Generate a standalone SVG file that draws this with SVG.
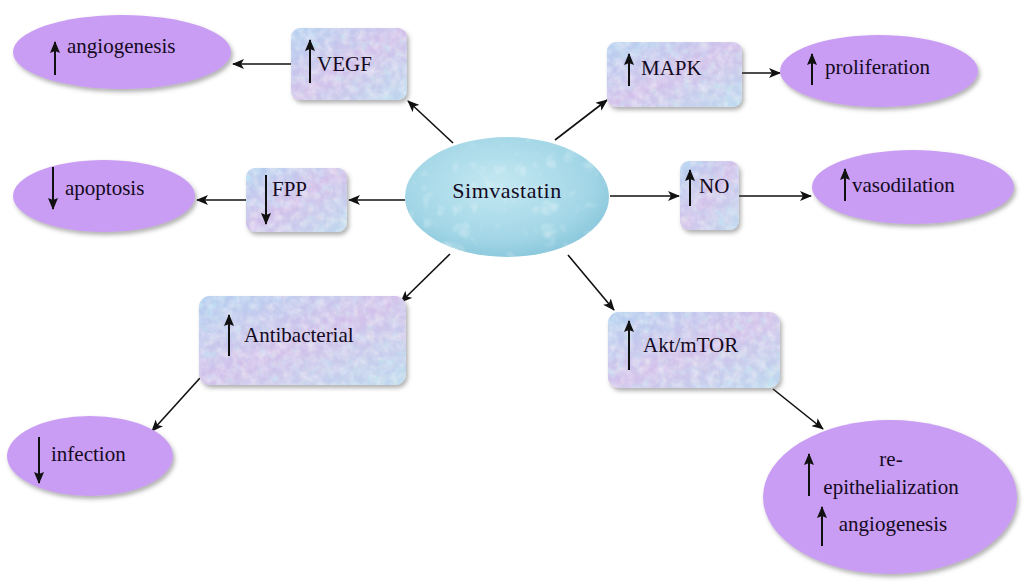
<svg xmlns="http://www.w3.org/2000/svg" width="1024" height="584" viewBox="0 0 1024 584">
<defs>
<style>
text{font-family:'Liberation Serif','Tinos','Times New Roman','DejaVu Serif',serif;font-size:21px;fill:#140a22}
.big{font-size:22px;letter-spacing:0.5px}
.conn{stroke:#111;stroke-width:1.6;fill:none;marker-end:url(#ah)}
.ell{fill:#c99df3;filter:url(#sh)}
.box{fill:url(#boxg);filter:url(#sh)}
.tex{fill:#fff;filter:url(#tx);opacity:0.6}
.ind{stroke:#111;stroke-width:2;fill:none;marker-end:url(#ih)}
</style>
<marker id="ah" markerWidth="12" markerHeight="10" refX="11" refY="5" orient="auto" markerUnits="userSpaceOnUse">
<path d="M0,0 L12,5 L0,10 L3,5 Z" fill="#111"/>
</marker>
<marker id="ih" markerWidth="12" markerHeight="10" refX="11" refY="5" orient="auto" markerUnits="userSpaceOnUse">
<path d="M0,0 L12,5 L0,10 L2,5 Z" fill="#111"/>
</marker>
<linearGradient id="boxg" x1="0" y1="0" x2="1" y2="1">
<stop offset="0" stop-color="#b4d0f0"/>
<stop offset="0.5" stop-color="#d2c0ea"/>
<stop offset="1" stop-color="#bcd8ee"/>
</linearGradient>
<radialGradient id="simg" cx="0.45" cy="0.4" r="0.65">
<stop offset="0" stop-color="#c4e8f2"/>
<stop offset="0.7" stop-color="#a2d6e6"/>
<stop offset="1" stop-color="#86c4da"/>
</radialGradient>
<filter id="sh" x="-10%" y="-10%" width="125%" height="130%">
<feDropShadow dx="2" dy="3" stdDeviation="2" flood-color="#555" flood-opacity="0.45"/>
</filter>
<filter id="tx" x="0" y="0" width="100%" height="100%">
<feTurbulence type="fractalNoise" baseFrequency="0.12" numOctaves="3" seed="4"/>
<feColorMatrix type="matrix" values="1.2 0 0 0 0.3  0 0.6 0.4 0 0.55  0 0 0.3 0 0.8  0 0 0 1.4 -0.4"/>
<feComposite in2="SourceGraphic" operator="in"/>
</filter>
<filter id="drops" x="0" y="0" width="100%" height="100%">
<feTurbulence type="turbulence" baseFrequency="0.05" numOctaves="2" seed="7"/>
<feColorMatrix type="matrix" values="0 0 0 0 1  0 0 0 0 1  0 0 0 0 1  0 0 0 1.6 -0.5"/>
<feComposite in2="SourceGraphic" operator="in"/>
</filter>
</defs>
<rect width="1024" height="584" fill="#fff"/>

<g id="connectors">
<line class="conn" x1="291" y1="64" x2="233" y2="64"/>
<line class="conn" x1="453" y1="143" x2="408" y2="101"/>
<line class="conn" x1="555" y1="140" x2="607" y2="100"/>
<line class="conn" x1="742" y1="73" x2="780" y2="73"/>
<line class="conn" x1="405" y1="200" x2="349" y2="200"/>
<line class="conn" x1="246" y1="200" x2="197" y2="200"/>
<line class="conn" x1="610" y1="196" x2="679" y2="196"/>
<line class="conn" x1="739" y1="196" x2="811" y2="196"/>
<line class="conn" x1="450" y1="254" x2="401" y2="302"/>
<line class="conn" x1="200" y1="378" x2="152" y2="431"/>
<line class="conn" x1="568" y1="255" x2="614" y2="310"/>
<line class="conn" x1="773" y1="389" x2="823" y2="429"/>
</g>

<g id="simvastatin">
<ellipse cx="507" cy="197" rx="102" ry="60" fill="url(#simg)"/>
<ellipse cx="507" cy="197" rx="102" ry="60" fill="#fff" filter="url(#drops)" opacity="0.5"/>
<text class="big" x="507" y="198" text-anchor="middle">Simvastatin</text>
</g>

<g id="vegf">
<rect class="box" x="291" y="28" width="116" height="72" rx="9"/>
<rect class="tex" x="291" y="28" width="116" height="72" rx="9"/>
<line class="ind" x1="310" y1="83" x2="310" y2="40"/>
<text x="317" y="71">VEGF</text>
</g>

<g id="angiogenesis1">
<ellipse class="ell" cx="122" cy="52" rx="109" ry="37"/>
<line class="ind" x1="55" y1="75" x2="55" y2="42"/>
<text x="67" y="53">angiogenesis</text>
</g>

<g id="mapk">
<rect class="box" x="607" y="42" width="135" height="65" rx="9"/>
<rect class="tex" x="607" y="42" width="135" height="65" rx="9"/>
<line class="ind" x1="629" y1="86" x2="629" y2="54"/>
<text x="641" y="75">MAPK</text>
</g>

<g id="proliferation">
<ellipse class="ell" cx="879" cy="71" rx="99" ry="36"/>
<line class="ind" x1="812" y1="85" x2="812" y2="54"/>
<text x="825" y="74">proliferation</text>
</g>

<g id="fpp">
<rect class="box" x="246" y="168" width="101" height="64" rx="9"/>
<rect class="tex" x="246" y="168" width="101" height="64" rx="9"/>
<line class="ind" x1="266" y1="175" x2="266" y2="224"/>
<text x="272" y="196">FPP</text>
</g>

<g id="apoptosis">
<ellipse class="ell" cx="104" cy="196" rx="91" ry="36"/>
<line class="ind" x1="53" y1="167" x2="53" y2="209"/>
<text x="65" y="195">apoptosis</text>
</g>

<g id="no">
<rect class="box" x="680" y="161" width="59" height="69" rx="9"/>
<rect class="tex" x="680" y="161" width="59" height="69" rx="9"/>
<line class="ind" x1="690" y1="206" x2="690" y2="170"/>
<text x="699" y="193">NO</text>
</g>

<g id="vasodilation">
<ellipse class="ell" cx="913" cy="187" rx="101" ry="37"/>
<line class="ind" x1="845" y1="201" x2="845" y2="169"/>
<text x="852" y="192">vasodilation</text>
</g>

<g id="antibacterial">
<rect class="box" x="199" y="296" width="207" height="89" rx="11"/>
<rect class="tex" x="199" y="296" width="207" height="89" rx="11"/>
<line class="ind" x1="229" y1="356" x2="229" y2="315"/>
<text x="244" y="342">Antibacterial</text>
</g>

<g id="infection">
<ellipse class="ell" cx="90" cy="456" rx="83" ry="40"/>
<line class="ind" x1="39" y1="437" x2="39" y2="483"/>
<text x="51" y="461">infection</text>
</g>

<g id="aktmtor">
<rect class="box" x="608" y="312" width="172" height="76" rx="11"/>
<rect class="tex" x="608" y="312" width="172" height="76" rx="11"/>
<line class="ind" x1="629" y1="370" x2="629" y2="321"/>
<text x="643" y="352">Akt/mTOR</text>
</g>

<g id="reepithelialization">
<ellipse class="ell" cx="890" cy="497" rx="127" ry="77"/>
<line class="ind" x1="809" y1="496" x2="809" y2="454"/>
<line class="ind" x1="822" y1="546" x2="822" y2="507"/>
<text x="891" y="466" text-anchor="middle">re-</text>
<text x="891" y="494" text-anchor="middle">epithelialization</text>
<text x="893" y="531" text-anchor="middle">angiogenesis</text>
</g>
</svg>
